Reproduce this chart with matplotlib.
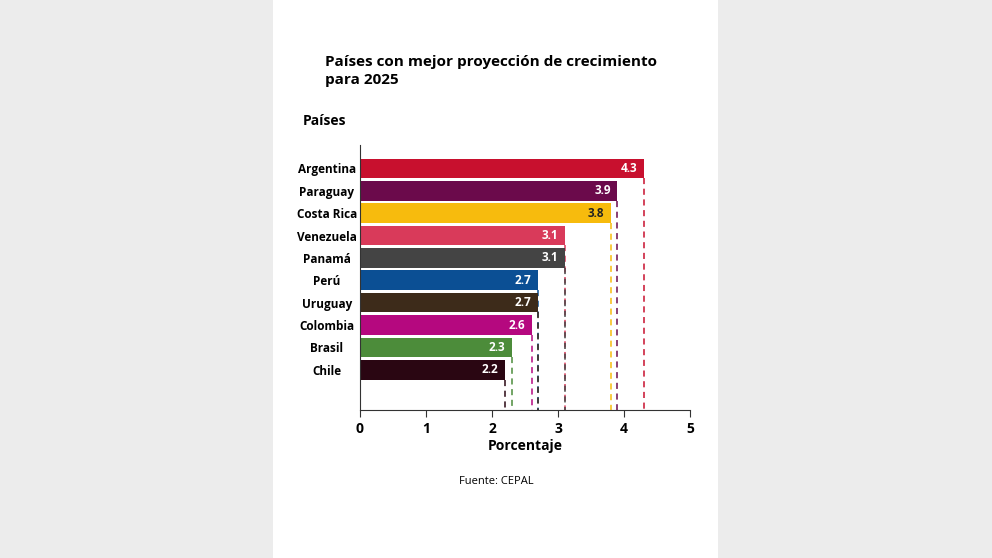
import matplotlib.pyplot as plt
from matplotlib.patches import Rectangle

plt.rcParams['font.family'] = ['Open Sans', 'DejaVu Sans']

# Data
paises = ['Argentina', 'Paraguay', 'Costa Rica', 'Venezuela', 'Panamá',
          'Perú', 'Uruguay', 'Colombia', 'Brasil', 'Chile']
valores = [4.3, 3.9, 3.8, 3.1, 3.1, 2.7, 2.7, 2.6, 2.3, 2.2]
colores = ['#c8102e', '#6b0a4b', '#f7bb0d', '#d93a5a', '#444444',
           '#0b4f94', '#3d2b1a', '#b5087f', '#4c8c3a', '#2a0612']
etiquetas = ['4.3', '3.9', '3.8', '3.1', '3.1', '2.7', '2.7', '2.6', '2.3', '2.2']
color_txt = ['white', 'white', '#222222', 'white', 'white',
             'white', 'white', 'white', 'white', 'white']

fig = plt.figure(figsize=(9.92, 5.58), dpi=100)
fig.patch.set_facecolor('#ececec')
fig.patches.append(Rectangle((273 / 992, 0), 445 / 992, 1, transform=fig.transFigure,
                             facecolor='white', edgecolor='none', zorder=-5))

ax = fig.add_axes([360 / 992, 1 - 410 / 558, 330 / 992, 265 / 558])
ax.set_zorder(2)
ax.set_facecolor('none')
pos = list(range(len(paises)))
ax.barh(pos, valores, height=0.88, color=colores, zorder=2)
for p, v, c, t, tc in zip(pos, valores, colores, etiquetas, color_txt):
    ax.vlines(v, p + 0.44, 10.8, colors=c, linestyles=(0, (4, 3)), linewidth=1.1, zorder=1)
    ax.text(v - 0.1, p, t, ha='right', va='center', color=tc, fontsize=8.5, fontweight='bold')

ax.set_ylim(10.8, -1.05)
ax.set_xlim(0, 5)
ax.set_yticks(pos)
ax.set_yticklabels(paises, fontsize=8.5, fontweight='bold', ha='center')
ax.tick_params(axis='y', length=0, pad=24)
ax.set_xticks([0, 1, 2, 3, 4, 5])
ax.set_xticklabels(['0', '1', '2', '3', '4', '5'], fontsize=10, fontweight='bold')
ax.tick_params(axis='x', length=5, color='#333333')
for s in ['top', 'right']:
    ax.spines[s].set_visible(False)
ax.spines['left'].set_color('#333333')
ax.spines['bottom'].set_color('#333333')
ax.set_xlabel('Porcentaje', fontsize=10, fontweight='bold', labelpad=2)

fig.text(325 / 992, 1 - 121 / 558, 'Países', fontsize=10, fontweight='bold', ha='center', va='center')
fig.text(325 / 992, 1 - 71 / 558, 'Países con mejor proyección de crecimiento\npara 2025',
         fontsize=11, fontweight='bold', ha='left', va='center', linespacing=1.3)
fig.text(496 / 992, 1 - 481 / 558, 'Fuente: CEPAL', fontsize=8, ha='center', va='center')

fig.savefig('out.png', dpi=100)
